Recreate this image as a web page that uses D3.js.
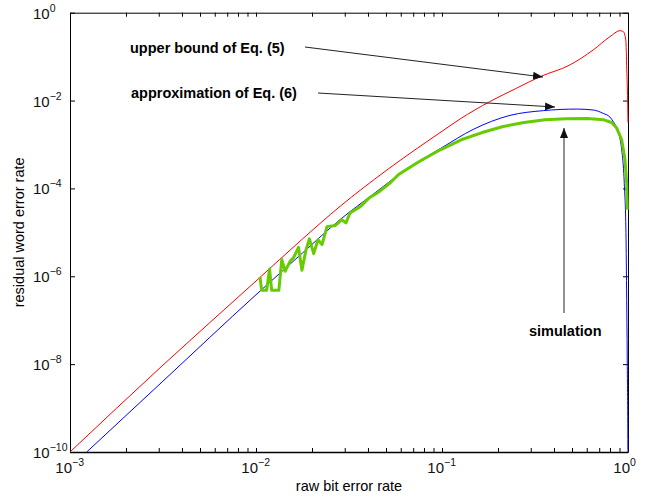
<!DOCTYPE html>
<html>
<head>
<meta charset="utf-8">
<script src="https://cdn.jsdelivr.net/npm/d3@7"></script>
<style>
body { margin: 0; background: #fff; }
svg { font-family: "Liberation Sans", Arial, sans-serif; }
</style>
</head>
<body>
<div id="chart"></div>
<script>
// curves: [raw bit error rate, residual word error rate]
var upperBound = [
	[1.0e-3, 1.0e-10], [3.16e-3, 9.5e-9], [1.0e-2, 7.8e-7], [1.78e-2, 7.1e-6],
	[2.83e-2, 3.9e-5], [5.01e-2, 2.55e-4], [0.1, 2.0e-3], [0.125, 3.8e-3],
	[0.181, 9.5e-3], [0.251, 1.9e-2], [0.337, 3.5e-2], [0.488, 6.5e-2],
	[0.65, 0.142], [0.80, 0.285], [0.906, 0.39], [0.944, 0.37], [0.973, 0.24],
	[0.985, 0.050], [0.9954, 1.0e-2], [1.0, 3.2e-3]
];
var approximation = [
	[1.23e-3, 1.0e-10], [3.16e-3, 4.1e-9], [1.0e-2, 3.8e-7], [1.78e-2, 3.4e-6],
	[2.83e-2, 1.95e-5], [4.27e-2, 7.4e-5], [6.46e-2, 2.75e-4], [0.1, 8.5e-4],
	[0.147, 2.2e-3], [0.232, 4.6e-3], [0.351, 5.9e-3], [0.53, 6.4e-3],
	[0.65, 6.1e-3], [0.736, 5.1e-3], [0.80, 4.2e-3], [0.834, 3.3e-3],
	[0.869, 2.4e-3], [0.925, 7.6e-4], [0.955, 1.3e-4], [0.975, 9.8e-6],
	[0.984, 3.0e-7], [0.9915, 8.9e-9], [0.9989, 1.15e-10], [0.9995, 1e-11]
];
var simulation = [
	[0.01051, 9.7e-7], [0.01072, 4.8e-7], [0.01141, 4.8e-7], [0.01183, 1.47e-6],
	[0.01214, 4.8e-7], [0.01327, 4.8e-7], [0.01376, 2.4e-6], [0.01434, 1.3e-6],
	[0.01524, 2.19e-6], [0.01592, 2.66e-6], [0.01692, 4.56e-6], [0.01766, 1.37e-6],
	[0.01858, 4.05e-6], [0.01937, 7.1e-6], [0.02042, 3.28e-6], [0.02155, 6.8e-6],
	[0.02264, 5.25e-6], [0.02409, 1.35e-5], [0.02673, 1.44e-5], [0.02891, 1.94e-5],
	[0.03044, 1.64e-5], [0.03199, 2.76e-5], [0.03651, 3.9e-5], [0.04055, 6.05e-5],
	[0.04613, 8.55e-5], [0.05254, 1.33e-4], [0.05821, 2.05e-4], [0.06631, 2.91e-4],
	[0.07551, 4.11e-4], [0.09795, 7.58e-4], [0.1268, 1.28e-3], [0.1644, 1.87e-3],
	[0.2131, 2.57e-3], [0.2763, 3.16e-3], [0.3582, 3.64e-3], [0.4642, 3.84e-3],
	[0.6019, 3.9e-3], [0.7413, 3.64e-3], [0.8173, 3.16e-3], [0.8694, 2.36e-3],
	[0.9249, 1.28e-3], [0.9636, 4.49e-4], [0.9840, 1.33e-4], [0.9913, 3.28e-5]
];

var xMajor = [1e-3, 1e-2, 1e-1, 1e0];
var xExp = ["\u22123", "\u22122", "\u22121", "0"];
var yMajor = [1e0, 1e-2, 1e-4, 1e-6, 1e-8, 1e-10];
var yExp = ["0", "\u22122", "\u22124", "\u22126", "\u22128", "\u221210"];

var notes = ["upper bound of Eq. (5)", "approximation of Eq. (6)", "simulation"];

var width = 657;
var height = 499;
var margin = {top: 12.7, right: 29, bottom: 47, left: 70};

var x = d3.scaleLog().domain([1e-3, 1]).range([margin.left, width - margin.right]);
var y = d3.scaleLog().domain([1e-10, 1]).range([height - margin.bottom, margin.top]);

var xMinor = [];
[1e-3, 1e-2, 1e-1].forEach(function(d) {
	for (var k = 1; k <= 9; k++) xMinor.push(d * k);
});
xMinor.push(1);

var svg = d3.select("#chart")
	.append("svg")
		.attr("width", width)
		.attr("height", height);

svg.append("defs").append("clipPath")
	.attr("id", "plotclip")
	.append("rect")
		.attr("x", x(1e-3) - 1)
		.attr("y", y(1) - 1)
		.attr("width", x(1) - x(1e-3) + 3)
		.attr("height", y(1e-10) - y(1) + 1);

svg.select("defs").append("marker")
	.attr("id", "head")
	.attr("markerUnits", "userSpaceOnUse")
	.attr("viewBox", "0 0 10 8")
	.attr("refX", 10)
	.attr("refY", 4)
	.attr("markerWidth", 10)
	.attr("markerHeight", 8)
	.attr("orient", "auto")
	.append("path")
		.attr("d", "M0,0 L10,4 L0,8 Z")
		.attr("fill", "#111");

// axes, ticks pointing inward
function styleAxis(g) {
	g.select(".domain").attr("stroke", "#000");
	g.selectAll(".tick line").attr("stroke", "#000");
}
svg.append("g")
	.attr("transform", "translate(0," + y(1e-10) + ")")
	.call(d3.axisBottom(x).tickValues(xMinor).tickSize(-4).tickSizeOuter(0).tickFormat(""))
	.call(styleAxis);
svg.append("g")
	.attr("transform", "translate(0," + y(1) + ")")
	.call(d3.axisTop(x).tickValues(xMinor).tickSize(-4).tickSizeOuter(0).tickFormat(""))
	.call(styleAxis);
svg.append("g")
	.attr("transform", "translate(" + x(1e-3) + ",0)")
	.call(d3.axisLeft(y).tickValues(yMajor).tickSize(-5).tickSizeOuter(0).tickFormat(""))
	.call(styleAxis);
svg.append("g")
	.attr("transform", "translate(" + x(1) + ",0)")
	.call(d3.axisRight(y).tickValues(yMajor).tickSize(-5).tickSizeOuter(0).tickFormat(""))
	.call(styleAxis);
svg.append("line")
	.attr("x1", x(1e-3)).attr("x2", x(1))
	.attr("y1", y(1e-10) + 0.5).attr("y2", y(1e-10) + 0.5)
	.attr("stroke", "#000").attr("stroke-width", 1.5);

// tick labels 10^n
var xl = svg.append("g");
xl.selectAll(".base")
	.data(xMajor)
	.enter()
	.append("text")
		.attr("x", function(d) { return x(d) + 2; })
		.attr("y", y(1e-10) + 21)
		.attr("text-anchor", "end")
		.attr("font-size", 15)
		.attr("fill", "#111")
		.text("10");
xl.selectAll(".exp")
	.data(xMajor)
	.enter()
	.append("text")
		.attr("x", function(d) { return x(d) + 2; })
		.attr("y", y(1e-10) + 14)
		.attr("font-size", 10.5)
		.attr("fill", "#111")
		.text(function(d, i) { return xExp[i]; });

var yl = svg.append("g").selectAll("text")
	.data(yMajor)
	.enter()
	.append("text")
		.attr("x", 33)
		.attr("y", function(d) { return y(d) + 6; })
		.attr("font-size", 15)
		.attr("fill", "#111");
yl.append("tspan").text("10");
yl.append("tspan").text(function(d, i) { return yExp[i]; })
	.attr("font-size", 10.5).attr("dy", -7);

svg.append("text")
	.attr("x", (x(1e-3) + x(1)) / 2)
	.attr("y", 491)
	.attr("text-anchor", "middle")
	.attr("font-size", 14.5)
	.text("raw bit error rate");
svg.append("text")
	.attr("transform", "translate(24," + (y(1) + y(1e-10)) / 2 + ") rotate(-90)")
	.attr("text-anchor", "middle")
	.attr("font-size", 14.5)
	.text("residual word error rate");

// curves
var line = d3.line()
	.x(function(d) { return x(d[0]); })
	.y(function(d) { return y(d[1]); });
var smooth = d3.line()
	.curve(d3.curveMonotoneX)
	.x(function(d) { return x(d[0]); })
	.y(function(d) { return y(d[1]); });

var plot = svg.append("g").attr("clip-path", "url(#plotclip)");
plot.append("path")
	.datum(upperBound)
	.attr("d", smooth)
	.attr("fill", "none")
	.attr("stroke", "#ff0000")
	.attr("stroke-width", 1);
plot.append("path")
	.datum(approximation)
	.attr("d", smooth)
	.attr("fill", "none")
	.attr("stroke", "#0000ff")
	.attr("stroke-width", 1);
plot.append("path")
	.datum(simulation)
	.attr("d", line)
	.attr("fill", "none")
	.attr("stroke", "#66cc00")
	.attr("stroke-width", 3)
	.attr("stroke-linejoin", "round");

// annotations
svg.append("text")
	.attr("x", 130).attr("y", 53)
	.attr("font-size", 14.5).attr("font-weight", "bold")
	.text(notes[0]);
svg.append("text")
	.attr("x", 131).attr("y", 98)
	.attr("font-size", 14.5).attr("font-weight", "bold")
	.text(notes[1]);
svg.append("text")
	.attr("x", 529).attr("y", 336)
	.attr("font-size", 14.5).attr("font-weight", "bold")
	.text(notes[2]);

svg.append("line")
	.attr("x1", 305).attr("y1", 47).attr("x2", 543).attr("y2", 77)
	.attr("stroke", "#222").attr("stroke-width", 1)
	.attr("marker-end", "url(#head)");
svg.append("line")
	.attr("x1", 318).attr("y1", 93).attr("x2", 555).attr("y2", 107)
	.attr("stroke", "#222").attr("stroke-width", 1)
	.attr("marker-end", "url(#head)");
svg.append("line")
	.attr("x1", 564).attr("y1", 313).attr("x2", 564).attr("y2", 128)
	.attr("stroke", "#222").attr("stroke-width", 1)
	.attr("marker-end", "url(#head)");
</script>
</body>
</html>
